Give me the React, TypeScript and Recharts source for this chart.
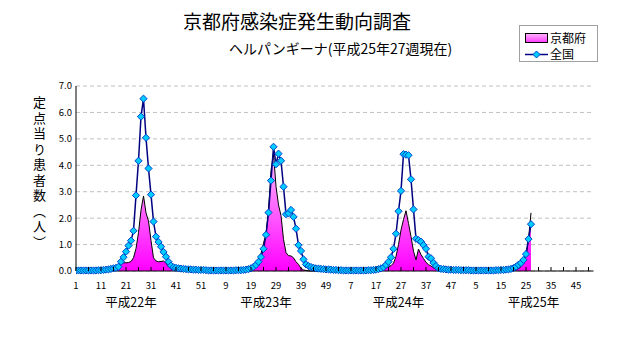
import React from "react";
import {
  Area,
  CartesianGrid,
  ComposedChart,
  Line,
  XAxis,
  YAxis,
} from "recharts";

// 京都府 定点当り患者数 (週別)
const kyotoH22 = [
  0, 0, 0, 0, 0, 0, 0, 0, 0, 0,
  0, 0, 0, 0, 0.02, 0.03, 0.05, 0.1, 0.28, 0.31,
  0.31, 0.32, 0.36, 0.5, 0.85, 1.45, 2.3, 2.84, 2.2, 1.89,
  1.15, 0.5, 0.38, 0.35, 0.36, 0.38, 0.3, 0.16, 0.08, 0.03,
  0.02, 0.01, 0, 0, 0, 0, 0, 0, 0, 0, 0, 0,
];
const kyotoH23 = [
  0, 0, 0, 0, 0, 0, 0, 0, 0, 0,
  0, 0, 0, 0, 0, 0.01, 0.02, 0.02, 0.03, 0.07,
  0.24, 0.45, 0.65, 1.05, 1.4, 2.3, 3.8, 4.45, 3.2, 2.5,
  2.1, 1.2, 0.7, 0.58, 0.57, 0.5, 0.35, 0.25, 0.1, 0.04,
  0.02, 0.01, 0, 0, 0, 0, 0, 0, 0, 0, 0, 0,
];
const kyotoH24 = [
  0, 0, 0, 0, 0, 0, 0, 0, 0, 0,
  0, 0, 0, 0, 0, 0, 0, 0, 0.01, 0.05,
  0.14, 0.16, 0.2, 0.3, 0.55, 1.0, 1.55, 1.95, 2.28, 1.8,
  1.3, 0.75, 0.42, 0.83, 0.62, 0.47, 0.33, 0.24, 0.19, 0.12,
  0.06, 0.03, 0.01, 0, 0, 0, 0, 0, 0, 0, 0, 0,
];
const kyotoH25 = [
  0, 0, 0, 0, 0, 0, 0, 0, 0, 0,
  0, 0, 0, 0, 0, 0, 0, 0, 0.01, 0.02,
  0.04, 0.09, 0.16, 0.3, 0.55, 1.2, 2.2,
];

// 全国 定点当り患者数 (週別)
const zenkokuH22 = [
  0.02, 0.02, 0.02, 0.02, 0.02, 0.02, 0.02, 0.02, 0.02, 0.03,
  0.03, 0.04, 0.05, 0.06, 0.08, 0.1, 0.12, 0.16, 0.35, 0.52,
  0.73, 0.96, 1.15, 1.52, 2.86, 4.17, 5.84, 6.52, 5.04, 3.88,
  2.89, 1.87, 1.3, 1.1, 0.92, 0.72, 0.54, 0.35, 0.2, 0.14,
  0.12, 0.1, 0.09, 0.08, 0.07, 0.06, 0.06, 0.05, 0.05, 0.04, 0.04, 0.04,
];
const zenkokuH23 = [
  0.03, 0.02, 0.02, 0.02, 0.02, 0.02, 0.02, 0.02, 0.02, 0.02,
  0.02, 0.02, 0.03, 0.03, 0.03, 0.04, 0.05, 0.07, 0.1, 0.16,
  0.23, 0.35, 0.53, 0.84, 1.37, 2.21, 3.42, 4.7, 4.04, 4.44,
  4.17, 3.19, 2.15, 2.18, 2.31, 2.05, 1.6, 0.98, 0.76, 0.44,
  0.25, 0.19, 0.15, 0.12, 0.1, 0.09, 0.08, 0.07, 0.06, 0.06, 0.05, 0.04,
];
const zenkokuH24 = [
  0.04, 0.03, 0.03, 0.02, 0.02, 0.02, 0.02, 0.02, 0.02, 0.02,
  0.02, 0.02, 0.02, 0.03, 0.03, 0.04, 0.05, 0.07, 0.1, 0.14,
  0.23, 0.35, 0.52, 0.84, 1.41, 2.26, 3.03, 4.42, 4.4, 4.38,
  3.47, 2.33, 1.22, 1.17, 1.11, 0.98, 0.84, 0.54, 0.48, 0.31,
  0.19, 0.1, 0.08, 0.07, 0.06, 0.05, 0.05, 0.04, 0.04, 0.04, 0.03, 0.03,
];
const zenkokuH25 = [
  0.03, 0.03, 0.02, 0.02, 0.02, 0.02, 0.02, 0.02, 0.02, 0.02,
  0.02, 0.02, 0.03, 0.03, 0.04, 0.04, 0.05, 0.06, 0.08, 0.11,
  0.16, 0.24, 0.3, 0.42, 0.64, 1.21, 1.77,
];

const WEEKS_PER_YEAR = 52;
const YEARS = 4;
const yearLabels = ["平成22年", "平成23年", "平成24年", "平成25年"];
// 年ラベルの位置 (通し週インデックス)
const yearLabelPos = [22, 76, 129, 183];
const yTicks = [0, 1, 2, 3, 4, 5, 6, 7];

const kyotoAll = [...kyotoH22, ...kyotoH23, ...kyotoH24, ...kyotoH25];
const zenkokuAll = [...zenkokuH22, ...zenkokuH23, ...zenkokuH24, ...zenkokuH25];

const data = Array.from({ length: WEEKS_PER_YEAR * YEARS }, (_, i) => ({
  i,
  kyoto: i < kyotoAll.length ? kyotoAll[i] : null,
  zenkoku: i < zenkokuAll.length ? zenkokuAll[i] : null,
}));

const weekTicks: number[] = [];
for (let t = 0; t < WEEKS_PER_YEAR * YEARS; t += 5) weekTicks.push(t);
const xTicks = [...weekTicks, ...yearLabelPos].sort((a, b) => a - b);

const FONT = '"Noto Sans CJK JP", "Noto Sans", sans-serif';

const WeekTick = (props: any) => {
  const { x, y, payload } = props;
  const v = payload.value;
  const yi = yearLabelPos.indexOf(v);
  if (yi >= 0) {
    return (
      <text x={x} y={y + 36} textAnchor="middle" fontSize={12.5} fontFamily={FONT} fill="#000">
        {yearLabels[yi]}
      </text>
    );
  }
  return (
    <g>
      <line x1={x} x2={x} y1={y} y2={y - 4} stroke="#000" />
      {v % 10 === 0 && (
        <text x={x} y={y + 18} textAnchor="middle" fontSize={9.5} fontFamily={FONT} fill="#000">
          {(v % WEEKS_PER_YEAR) + 1}
        </text>
      )}
    </g>
  );
};

const Diamond = (props: any) => {
  const { cx, cy, value, index } = props;
  if (cx == null || cy == null || value == null) return <g key={index} />;
  const r = 3.6;
  return (
    <polygon
      key={index}
      points={`${cx},${cy - r} ${cx + r},${cy} ${cx},${cy + r} ${cx - r},${cy}`}
      fill="#00ccff"
      stroke="#0044cc"
      strokeWidth={1}
    />
  );
};

export default function App() {
  return (
    <div
      style={{
        position: "fixed",
        left: 0,
        top: 0,
        width: 632,
        height: 348,
        background: "#fff",
        fontFamily: FONT,
      }}
    >
      <div style={{ position: "absolute", left: 0, width: 594, top: 11, textAlign: "center", fontSize: 19, lineHeight: 1 }}>
        京都府感染症発生動向調査
      </div>
      <div style={{ position: "absolute", left: 229, top: 41, fontSize: 14, lineHeight: 1, whiteSpace: "nowrap" }}>
        ヘルパンギーナ(平成25年27週現在)
      </div>
      <div
        style={{
          position: "absolute",
          left: 519,
          top: 25,
          width: 79,
          height: 37,
          border: "1px solid #a0a0a0",
          boxSizing: "border-box",
          fontSize: 12,
          lineHeight: 1,
        }}
      >
        <div style={{ position: "absolute", left: 5, top: 6, display: "flex", alignItems: "center" }}>
          <span
            style={{
              display: "inline-block",
              width: 21,
              height: 8,
              border: "1px solid #000",
              background: "linear-gradient(#ffb0ff, #ff40ff)",
              marginRight: 2,
            }}
          />
          京都府
        </div>
        <div style={{ position: "absolute", left: 5, top: 22, display: "flex", alignItems: "center" }}>
          <svg width={23} height={9} style={{ marginRight: 2 }}>
            <line x1={0} x2={23} y1={4.5} y2={4.5} stroke="#000080" strokeWidth={1.5} />
            <polygon points="11.5,1 15,4.5 11.5,8 8,4.5" fill="#00ccff" stroke="#0044cc" />
          </svg>
          全国
        </div>
      </div>
      <div
        style={{
          position: "absolute",
          left: 33,
          top: 96,
          writingMode: "vertical-rl",
          fontSize: 13,
          letterSpacing: 2.5,
          lineHeight: 1,
        }}
      >
        定点当り患者数（人）
      </div>
      <div style={{ position: "absolute", left: 0, top: 0 }}>
        <ComposedChart
          width={632}
          height={348}
          data={data}
          margin={{ top: 86, right: 38.5, bottom: 0, left: 0 }}
        >
          <defs>
            <linearGradient id="kyotoFill" x1="0" y1="0" x2="0" y2="1">
              <stop offset="0%" stopColor="#ffc0ff" />
              <stop offset="100%" stopColor="#ff00ff" />
            </linearGradient>
          </defs>
          <CartesianGrid vertical={false} stroke="#c0c0c0" strokeDasharray="4 3" />
          <XAxis
            type="number"
            dataKey="i"
            domain={[0, 207]}
            ticks={xTicks}
            interval={0}
            tickLine={false}
            tickSize={0}
            tickMargin={0}
            tick={<WeekTick />}
            axisLine={{ stroke: "#000" }}
            height={77}
            allowDataOverflow
          />
          <YAxis
            domain={[0, 7]}
            ticks={yTicks}
            interval={0}
            width={76}
            tickFormatter={(v: number) => v.toFixed(1)}
            tickLine={false}
            tickSize={0}
            tickMargin={4}
            tick={{ fontSize: 9.5, fill: "#000", fontFamily: FONT }}
            axisLine={{ stroke: "#000" }}
          />
          <Area
            type="linear"
            dataKey="kyoto"
            stroke="#000"
            strokeWidth={1}
            fill="url(#kyotoFill)"
            fillOpacity={1}
            isAnimationActive={false}
            dot={false}
            activeDot={false}
          />
          <Line
            type="linear"
            dataKey="zenkoku"
            stroke="#000080"
            strokeWidth={1.5}
            dot={Diamond}
            activeDot={false}
            isAnimationActive={false}
          />
        </ComposedChart>
      </div>
    </div>
  );
}
